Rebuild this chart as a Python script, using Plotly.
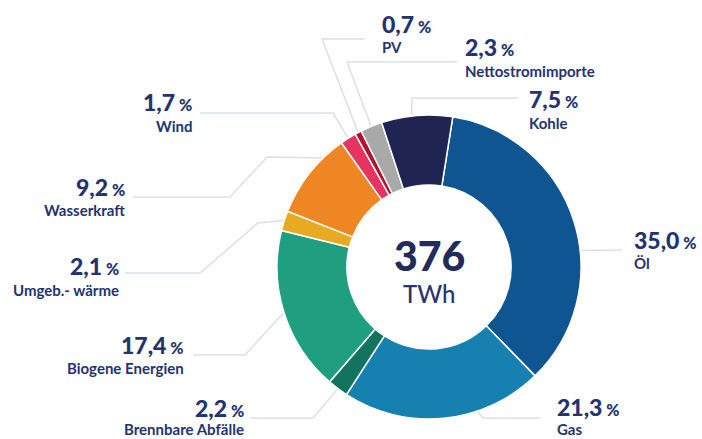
import math
import plotly.graph_objects as go

# ---- data ----
categories = ["Öl", "Gas", "Brennbare Abfälle", "Biogene Energien", "Umgeb.- wärme",
              "Wasserkraft", "Wind", "PV", "Nettostromimporte", "Kohle"]
shares = [35.0, 21.3, 2.2, 17.4, 2.1, 9.2, 1.7, 0.7, 2.3, 7.5]
share_labels = ["35,0", "21,3", "2,2", "17,4", "2,1", "9,2", "1,7", "0,7", "2,3", "7,5"]
total_value = "376"
total_unit = "TWh"

# ---- style / layout ----
colors = ["#0e5592", "#1680b0", "#12735f", "#1f9e80", "#e8aa22", "#ee8624",
          "#e5345f", "#b3122d", "#a9a9a9", "#1f2452"]
W, H = 702, 439
CX, CY, R = 429, 267, 152
ROTATION = 9
TXT = "#243370"
LINE = "#dcdfe8"

# label layout: x, value-y, name-y, side, leader points (label side), fraction within slice
label_layout = {
    "Öl": (632, 240, 263, "left", [(622, 250)], 0.59),
    "Gas": (555, 407, 429, "left", [(540, 418), (483, 418)], 0.33),
    "Brennbare Abfälle": (246, 408, 429, "right", [(250, 418), (313, 418)], 0.5),
    "Biogene Energien": (186, 345, 368, "right", [(193, 355), (245, 355)], 0.5),
    "Umgeb.- wärme": (121, 266, 290, "right", [(125, 273), (200, 273), (258, 223)], 0.5),
    "Wasserkraft": (127, 187, 210, "right", [(133, 197), (230, 197), (267, 157)], 0.72),
    "Wind": (194, 102, 126, "right", [(200, 113), (333, 113)], 0.5),
    "PV": (380, 24, 47, "left", [(365, 39), (322, 39)], 0.5),
    "Nettostromimporte": (463, 47, 71, "left", [(457, 62), (347, 62)], 0.5),
    "Kohle": (527, 99, 123, "left", [(518, 98), (412, 98)], 0.43),
}


def px(x):
    return x / W


def py(y):
    return 1 - y / H


fig = go.Figure(go.Pie(
    labels=categories, values=shares, sort=False, direction="clockwise",
    rotation=ROTATION, hole=0.54, textinfo="none", hoverinfo="label+percent",
    marker=dict(colors=colors, line=dict(color="white", width=1.5)),
    domain=dict(x=[px(CX - R), px(CX + R)], y=[py(CY + R), py(CY - R)]),
    showlegend=False,
))

total = sum(shares)
start = ROTATION
annotations = []
shapes = []
for cat, val, lab in zip(categories, shares, share_labels):
    span = val / total * 360
    x, yv, yn, side, pts, frac = label_layout[cat]
    ang = math.radians(start + span * frac)
    ex = CX + (R + 1) * math.sin(ang)
    ey = CY - (R + 1) * math.cos(ang)
    start += span
    allpts = pts + [(ex, ey)]
    path = "M " + " L ".join(f"{px(a):.5f},{py(b):.5f}" for a, b in allpts)
    shapes.append(dict(type="path", path=path, xref="paper", yref="paper",
                       line=dict(color=LINE, width=1.5), layer="below"))
    anchor = "left" if side == "left" else "right"
    annotations.append(dict(
        x=px(x), y=py(yv), xref="paper", yref="paper", xanchor=anchor, yanchor="middle",
        text=f"{lab}<span style='font-size:16px'> %</span>", showarrow=False,
        font=dict(family="Lato", size=23, color=TXT, weight=900)))
    annotations.append(dict(
        x=px(x), y=py(yn), xref="paper", yref="paper", xanchor=anchor, yanchor="middle",
        text=cat, showarrow=False,
        font=dict(family="Lato", size=15, color=TXT, weight=700)))

annotations.append(dict(x=px(CX), y=py(255), xref="paper", yref="paper", showarrow=False,
                        text=total_value, xanchor="center", yanchor="middle",
                        font=dict(family="Lato", size=41, color="#232a5c", weight=900)))
annotations.append(dict(x=px(CX), y=py(293), xref="paper", yref="paper", showarrow=False,
                        text=total_unit, xanchor="center", yanchor="middle",
                        font=dict(family="Lato", size=24, color="#2a3470", weight=500)))

fig.update_layout(
    width=W, height=H, margin=dict(l=0, r=0, t=0, b=0),
    paper_bgcolor="white", plot_bgcolor="white",
    annotations=annotations, shapes=shapes,
)
fig.write_html("out.html")
